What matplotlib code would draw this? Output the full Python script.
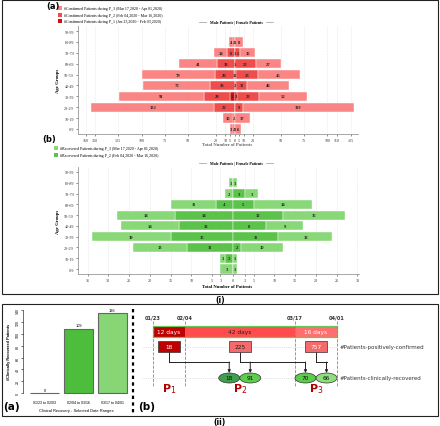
import matplotlib
matplotlib.use("Agg")
import numpy as np
import matplotlib.pyplot as plt
from matplotlib.patches import Rectangle, Ellipse

W, H = 440, 427

# ---- data ----
age_groups = ["0-9", "10-19", "20-29", "30-39", "40-49", "50-59", "60-69", "70-79", "80-89", "90-99"]

# confirmed patients per age group and period (index 0 -> "0-9")
conf_male_p1 = [0, 0, 0, 5, 0, 1, 0, 0, 0, 0]
conf_male_p2 = [2, 2, 22, 28, 26, 20, 19, 8, 2, 0]
conf_male_p3 = [3, 10, 132, 91, 72, 79, 41, 14, 4, 0]
conf_female_p1 = [1, 0, 0, 3, 2, 2, 1, 1, 1, 0]
conf_female_p2 = [0, 0, 9, 23, 11, 23, 22, 5, 0, 0]
conf_female_p3 = [6, 17, 119, 52, 46, 45, 27, 16, 8, 0]

# recovered patients per age group and period
rec_male_p2 = [0, 2, 11, 15, 13, 14, 4, 0, 0, 0]
rec_male_p3 = [3, 1, 13, 19, 14, 14, 11, 2, 1, 0]
rec_female_p2 = [0, 0, 2, 11, 8, 12, 5, 3, 0, 0]
rec_female_p3 = [1, 1, 10, 13, 9, 15, 14, 3, 1, 0]

conf_ticks = [-160, -150, -125, -100, -75, -50, -20, -10, -5, 0, 5, 10, 20, 50, 75, 100, 110, 125]
rec_ticks = [-35, -30, -25, -20, -15, -10, -5, -3, 0, 3, 5, 10, 15, 20, 25, 30]

conf_legend = ["#Confirmed Patients during P_3 (Mar 17,2020 - Apr 01,2020)",
               "#Confirmed Patients during P_2 (Feb 04,2020 - Mar 16,2020)",
               "#Confirmed Patients during P_1 (Jan 23,2020 - Feb 03,2020)"]
rec_legend = ["#Recovered Patients during P_3 (Mar 17,2020 - Apr 01,2020)",
              "#Recovered Patients during P_2 (Feb 04,2020 - Mar 16,2020)"]

recovery_ranges = ["01/23 to 02/03", "02/04 to 03/16", "03/17 to 04/01"]
recovered_counts = [0, 109, 136]

period_days = [12, 42, 16]
period_dates = ["01/23", "02/04", "03/17", "04/01"]
confirmed_counts = [18, 225, 757]
# (period confirmed, period recovered, count)
recovery_flows = [(0, 1, 18), (1, 1, 91), (1, 2, 70), (2, 2, 66)]

# colours
red = ["#cc1111", "#ef4c4c", "#f98585"]      # P1, P2, P3
green = ["#5cc34a", "#89d878"]               # P2, P3
SERIF = "Liberation Serif"


def px_axes(fig, x0, y0, x1, y1):
    return fig.add_axes([x0 / W, 1 - y1 / H, (x1 - x0) / W, (y1 - y0) / H])


def pyramid(ax, male_layers, female_layers, colors, ticks):
    y = np.arange(len(age_groups))
    for sign, layers in ((-1, male_layers), (1, female_layers)):
        start = np.zeros(len(y))
        for vals, c in zip(layers, colors):
            v = np.array(vals, float)
            ax.barh(y, sign * v, left=sign * start, height=0.85, color=c,
                    edgecolor="white", linewidth=0.3, zorder=2)
            for yi, s, vi in zip(y, start, v):
                if vi > 0:
                    ax.text(sign * (s + vi / 2), yi, str(int(vi)), ha="center", va="center",
                            fontsize=3.3, fontweight="bold", family=SERIF, color="#222222", zorder=3)
            start = start + v
    ax.set_yticks(y)
    ax.set_yticklabels(age_groups, fontsize=3.0, family=SERIF)
    ax.set_xticks(ticks)
    ax.set_xticklabels([str(abs(t)) for t in ticks], fontsize=3.0, family=SERIF)
    ax.set_ylim(-0.46, 9.46)
    ax.tick_params(length=1.5, width=0.4, pad=1.5, colors="#333333")
    for s in ("top", "right"):
        ax.spines[s].set_visible(False)
    for s in ("left", "bottom"):
        ax.spines[s].set_color("#999999")
        ax.spines[s].set_linewidth(0.6)
    ax.grid(axis="x", color="#e6e6e6", linewidth=0.4, linestyle="--", zorder=0)
    ax.set_ylabel("Age Groups", fontsize=3.4, fontweight="bold", family=SERIF, labelpad=3)
    ax.set_facecolor("none")


fig = plt.figure(figsize=(W / 100, H / 100), dpi=100)

# ---- (i)(a) confirmed pyramid ----
ax1 = px_axes(fig, 78, 27, 358, 135)
pyramid(ax1, [conf_male_p1, conf_male_p2, conf_male_p3],
        [conf_female_p1, conf_female_p2, conf_female_p3], red, conf_ticks)
ax1.set_xlim(-168.3, 132.8)

# ---- (i)(b) recovered pyramid ----
ax2 = px_axes(fig, 78, 168, 359, 275)
pyramid(ax2, [rec_male_p2, rec_male_p3], [rec_female_p2, rec_female_p3], green, rec_ticks)
ax2.set_xlim(-37.3, 30.4)

# ---- (ii)(a) bar chart ----
ax3 = px_axes(fig, 23, 305, 130, 398)
xb = np.arange(len(recovery_ranges))
ax3.bar(xb, recovered_counts, width=0.86, color=["#4dbd3c", "#4dbd3c", "#86d676"],
        edgecolor="#666666", linewidth=0.8)
for xi, v in zip(xb, recovered_counts):
    ax3.text(xi, v + 2, str(v), ha="center", va="bottom", fontsize=2.8, family="Liberation Sans")
ax3.set_xlim(-0.652, 2.52)
ax3.set_ylim(-6.8, 150.8)
ax3.set_yticks(range(0, 141, 20))
ax3.set_yticklabels([str(t) for t in range(0, 141, 20)], rotation=90, va="center",
                    fontsize=2.6, family="Liberation Sans")
ax3.set_xticks(xb)
ax3.set_xticklabels(recovery_ranges, fontsize=2.6, family="Liberation Sans")
ax3.tick_params(axis="y", length=1.5, width=0.4, pad=1)
ax3.tick_params(axis="x", length=0, pad=2)
for s in ("top", "right", "bottom"):
    ax3.spines[s].set_visible(False)
ax3.spines["left"].set_bounds(0, 140)
ax3.spines["left"].set_linewidth(0.4)
ax3.set_xlabel("Clinical Recovery - Selected Date Ranges", fontsize=2.9,
               family="Liberation Sans", labelpad=3)
ax3.set_ylabel("#Clinically Recovered Patients", fontsize=2.8, fontweight="bold",
               family="Liberation Sans", labelpad=3)
ax3.set_facecolor("none")

# ---- (ii)(b) timeline ----
ax4 = px_axes(fig, 140, 308, 438, 417)
ax4.set_xlim(-4.94, 108.4)
ax4.set_ylim(109, 0)
ax4.axis("off")
bounds = np.concatenate([[0], np.cumsum(period_days)])
centers = (bounds[:-1] + bounds[1:]) / 2
bar_cols = ["#c00000", "#ff4d4d", "#ff6f6f"]
txt_cols = ["white", "#222222", "white"]
for i, d in enumerate(period_days):
    ax4.add_patch(Rectangle((bounds[i], 19), d, 11, facecolor=bar_cols[i], edgecolor="none"))
    ax4.text(centers[i], 24.5, f"{d} days", ha="center", va="center", fontsize=4.2,
             color=txt_cols[i])
ax4.add_patch(Rectangle((0, 19), bounds[-1], 11, facecolor="none", edgecolor="#6cc45a", linewidth=0.9))
for b, lab in zip(bounds, period_dates):
    ax4.plot([b, b], [14, 79], color="#888888", linewidth=0.6, linestyle="--")
    ax4.text(b, 10, lab, ha="center", va="center", fontsize=3.6, fontweight="bold", color="#333333")
for yy, lab in ((40, "#Patients-positively-confirmed"), (71, "#Patients-clinically-recovered")):
    ax4.plot([-4, bounds[-1]], [yy, yy], color="#c8c8c8", linewidth=0.5, linestyle=":")
    ax4.text(bounds[-1] + 0.8, yy, lab, ha="left", va="center", fontsize=4.0, color="#333333")

box_cols = ["#c00000", "#f36b6b", "#f56b6b"]
box_txt = ["white", "#222222", "white"]
for i, n in enumerate(confirmed_counts):
    ax4.add_patch(Rectangle((centers[i] - 4.2, 34), 8.4, 11, facecolor=box_cols[i],
                            edgecolor="#333333", linewidth=0.5, zorder=3))
    ax4.text(centers[i], 39.5, str(n), ha="center", va="center", fontsize=4.2,
             color=box_txt[i], zorder=4)

ell_cols = {(0, 1): "#3f9f4f", (1, 1): "#5ccc4c", (1, 2): "#5ccc4c", (2, 2): "#8ede7c"}
offsets = {(0, 1): -4, (1, 1): 4, (1, 2): -4, (2, 2): 4}
ell_x = {}
for src, dst, n in recovery_flows:
    ex = centers[dst] + offsets[(src, dst)]
    ell_x[(src, dst)] = ex
    ax4.add_patch(Ellipse((ex, 71), 8.0, 10, facecolor=ell_cols[(src, dst)],
                          edgecolor="#333333", linewidth=0.5, zorder=3))
    ax4.text(ex, 71, str(n), ha="center", va="center", fontsize=4.2, color="#111111", zorder=4)

# arrows from confirmed boxes to recovered ellipses
for src in range(len(confirmed_counts)):
    targets = [ell_x[(s, d)] for s, d, _ in recovery_flows if s == src]
    xs = [centers[src]] + targets
    ax4.plot([centers[src], centers[src]], [45, 55], color="#222222", linewidth=0.7)
    ax4.plot([min(xs), max(xs)], [55, 55], color="#222222", linewidth=0.7)
    for tx in targets:
        ax4.annotate("", xy=(tx, 66), xytext=(tx, 55),
                     arrowprops=dict(arrowstyle="-|>", color="#222222", lw=0.7,
                                     mutation_scale=4, shrinkA=0, shrinkB=0))
for i in range(3):
    ax4.text(centers[i], 81, f"P$_{i + 1}$", ha="center", va="center", fontsize=8,
             fontweight="bold", color="#b00000")

# ---- overlay: frames, legends, panel labels ----
ov = fig.add_axes([0, 0, 1, 1])
ov.set_xlim(0, W)
ov.set_ylim(H, 0)
ov.axis("off")
ov.patch.set_visible(False)
ov.add_patch(Rectangle((2, 1), 436, 294, fill=False, edgecolor="#222222", linewidth=0.8))
ov.add_patch(Rectangle((2, 305), 436, 112, fill=False, edgecolor="#222222", linewidth=0.8))
ov.plot([133, 133], [310, 415], color="black", linewidth=1.6, linestyle=(0, (1.5, 1.5)))

ov.text(53, 6, "(a)", fontsize=6, fontweight="bold", ha="center", va="center")
ov.text(49, 140, "(b)", fontsize=6, fontweight="bold", ha="center", va="center")
ov.text(11, 407, "(a)", fontsize=7.5, fontweight="bold", ha="center", va="center")
ov.text(147, 407, "(b)", fontsize=7.5, fontweight="bold", ha="center", va="center")
ov.text(220, 301, "(i)", fontsize=5.5, fontweight="bold", ha="center", va="center")
ov.text(220, 423, "(ii)", fontsize=5.5, fontweight="bold", ha="center", va="center")

for k, (lab, c) in enumerate(zip(conf_legend, red[::-1])):
    yy = 9 + k * 6.6
    ov.scatter([60], [yy], marker="s", s=6, color=c, linewidths=0)
    ov.text(64, yy, lab, fontsize=2.9, family=SERIF, va="center", ha="left")
for k, (lab, c) in enumerate(zip(rec_legend, green[::-1])):
    yy = 149 + k * 7
    ov.scatter([56], [yy], marker="s", s=6, color=c, linewidths=0)
    ov.text(59.5, yy, lab, fontsize=2.9, family=SERIF, va="center", ha="left")

for yy in (23, 164):
    ov.plot([199, 206], [yy, yy], color="#aaaaaa", linewidth=0.6)
    ov.plot([266, 273], [yy, yy], color="#aaaaaa", linewidth=0.6)
    ov.text(236, yy, "Male Patients | Female Patients", fontsize=2.9, fontweight="bold",
            family=SERIF, ha="center", va="center")

ov.text(227, 145, "Total Number of Patients", fontsize=3.3, fontweight="bold", family=SERIF,
        ha="center", va="center", color="#666666")
ov.text(227, 287, "Total Number of Patients", fontsize=3.3, fontweight="bold", family=SERIF,
        ha="center", va="center")

fig.savefig("out.png", dpi=100)
